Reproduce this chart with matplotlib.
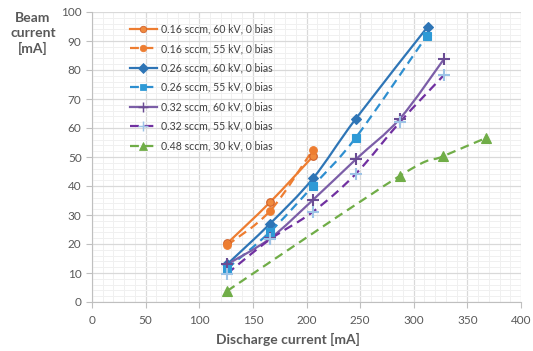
import numpy as np
import matplotlib
matplotlib.use("Agg")
import matplotlib.pyplot as plt
from matplotlib.path import Path
from matplotlib.patches import PathPatch
from matplotlib.lines import Line2D
from matplotlib.ticker import MultipleLocator

plt.rcParams['font.family'] = ['Lato', 'DejaVu Sans']

# data
labels = ["0.16 sccm, 60 kV, 0 bias", "0.16 sccm, 55 kV, 0 bias",
          "0.26 sccm, 60 kV, 0 bias", "0.26 sccm, 55 kV, 0 bias",
          "0.32 sccm, 60 kV, 0 bias", "0.32 sccm, 55 kV, 0 bias",
          "0.48 sccm, 30 kV, 0 bias"]
x_016_60 = [126, 166, 206]
y_016_60 = [20.2, 34.4, 50.2]
x_016_55 = [126, 166, 206]
y_016_55 = [19.6, 31.4, 52.5]
x_026_60 = [126, 166, 206, 246, 313]
y_026_60 = [13.0, 27.0, 42.6, 63.2, 94.9]
x_026_55 = [126, 166, 206, 246, 312]
y_026_55 = [11.5, 24.2, 40.0, 56.7, 91.7]
x_032_60 = [126, 166, 206, 246, 287, 328]
y_032_60 = [13.0, 21.9, 35.2, 49.2, 63.2, 83.7]
x_032_55 = [126, 166, 206, 246, 287, 328]
y_032_55 = [9.8, 21.6, 31.1, 44.2, 62.0, 78.2]
x_048_30 = [126, 287, 327, 367]
y_048_30 = [3.8, 43.5, 50.2, 56.5]

series = [
    (x_016_60, y_016_60, dict(color='#ed7d31', ls='-', marker='o', ms=5.5, mfc='#f08a3e', mec='#d0602a')),
    (x_016_55, y_016_55, dict(color='#ed7d31', ls='--', marker='o', ms=5.5, mfc='#ed7d31', mec='#ed7d31')),
    (x_026_60, y_026_60, dict(color='#2e75b6', ls='-', marker='D', ms=5.5, mfc='#2e75b6', mec='#2e75b6')),
    (x_026_55, y_026_55, dict(color='#2e8fd0', ls='--', marker='s', ms=5.5, mfc='#2e9ad6', mec='#2e9ad6')),
    (x_032_60, y_032_60, dict(color='#7b5ea7', ls='-', marker='+', ms=8, mfc='#7b5ea7', mec='#6a4c93')),
    (x_032_55, y_032_55, dict(color='#7030a0', ls='--', marker='+', ms=8, mfc='#9dc3e6', mec='#9dc3e6')),
    (x_048_30, y_048_30, dict(color='#70ad47', ls='--', marker='^', ms=6.5, mfc='#70ad47', mec='#70ad47')),
]


def smooth_path(xs, ys):
    # Excel-like smoothed line: Catmull-Rom turned into cubic Beziers
    p = np.column_stack([xs, ys]).astype(float)
    verts = [p[0]]
    codes = [Path.MOVETO]
    n = len(p)
    for i in range(n - 1):
        p0 = p[i - 1] if i > 0 else p[i]
        p3 = p[i + 2] if i + 2 < n else p[i + 1]
        c1 = p[i] + (p[i + 1] - p0) / 6.0
        c2 = p[i + 1] - (p3 - p[i]) / 6.0
        verts += [c1, c2, p[i + 1]]
        codes += [Path.CURVE4] * 3
    return Path(verts, codes)


fig = plt.figure(figsize=(5.33, 3.51), dpi=100)
ax = fig.add_axes([92 / 533, 1 - 302 / 351, 429 / 533, 290 / 351])

handles = []
for xs, ys, st in series:
    dash = (0, (4, 2.5)) if st['ls'] == '--' else '-'
    patch = PathPatch(smooth_path(xs, ys), facecolor='none', edgecolor=st['color'],
                      lw=1.6, linestyle=dash, zorder=3, capstyle='butt')
    ax.add_patch(patch)
    mew = 1.5 if st['marker'] == '+' else 0.8
    ax.plot(xs, ys, linestyle='none', marker=st['marker'], ms=st['ms'],
            mfc=st['mfc'], mec=st['mec'], mew=mew, zorder=4)
    handles.append(Line2D([], [], color=st['color'], lw=1.6, linestyle=dash,
                          marker=st['marker'], ms=st['ms'] * 0.85, mfc=st['mfc'],
                          mec=st['mec'], mew=mew * 0.7))

ax.set_xlim(0, 400)
ax.set_ylim(0, 100)
ax.xaxis.set_major_locator(MultipleLocator(50))
ax.xaxis.set_minor_locator(MultipleLocator(10))
ax.yaxis.set_major_locator(MultipleLocator(10))
ax.yaxis.set_minor_locator(MultipleLocator(2))
ax.grid(which='major', color='#d9d9d9', lw=0.9, zorder=0)
ax.grid(which='minor', color='#f0f0f0', lw=0.7, zorder=0)
ax.set_axisbelow(True)
for side in ['top', 'right']:
    ax.spines[side].set_visible(False)
for side in ['left', 'bottom']:
    ax.spines[side].set_color('#bfbfbf')
ax.tick_params(which='major', length=4, color='#bfbfbf', labelcolor='#595959', labelsize=8.5)
ax.tick_params(which='minor', length=0)
ax.tick_params(axis='x', pad=5)

ax.set_xlabel('Discharge current [mA]', fontsize=10, fontweight='bold', color='#595959')
ax.xaxis.set_label_coords((288 - 92) / 429, -0.108)
fig.text(33 / 533, 1 - 12 / 351, 'Beam\ncurrent\n[mA]', ha='center', va='top',
         fontsize=10, fontweight='bold', color='#595959', linespacing=1.3)

ax.legend(handles, labels, loc='upper left', bbox_to_anchor=(0.066, 0.993), frameon=False,
          fontsize=7.6, handlelength=2.55, handletextpad=0.38, labelspacing=0.8,
          labelcolor='#404040')

fig.savefig('out.png', dpi=100)
